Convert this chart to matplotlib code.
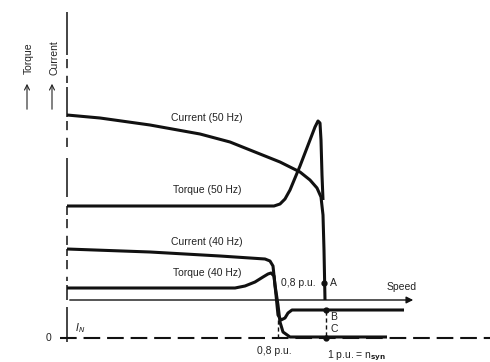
import matplotlib.pyplot as plt

# schematic diagram, coordinates (x = speed, y = value, picture units)
cur50_x = [67, 100, 150, 200, 230, 260, 280, 300, 310, 317, 321, 323, 324, 325]
cur50_y = [115, 118, 125, 134, 142, 154, 162, 172, 180, 188, 197, 215, 250, 300]
tq50_x = [67, 274, 280, 285, 290, 300, 310, 315, 318, 320, 321, 322, 323]
tq50_y = [206, 206, 204, 199, 190, 166, 140, 127, 121, 123, 140, 175, 200]
cur40_x = [67, 150, 220, 265, 270, 273, 275, 278, 280, 283, 290, 387]
cur40_y = [249, 252, 256, 259, 261, 266, 285, 305, 322, 332, 337, 337]
tq40_x = [67, 235, 245, 255, 263, 268, 271, 274, 276, 278, 281, 285, 288, 292, 300, 404]
tq40_y = [288, 288, 286, 282, 277, 274, 273, 276, 295, 315, 320, 318, 313, 310, 310, 310]

axis_x = 67
axis_solid = [(12, 55), (87, 117), (158, 197), (206, 215), (249, 256), (285, 300), (307, 342)]
axis_dash = [(55, 87), (117, 158), (215, 249), (256, 285)]
speed_y = 300
zero_y = 338

ink = '#111111'
fig = plt.figure(figsize=(4.9, 3.62), dpi=100)
ax = fig.add_axes([0, 0, 1, 1])
ax.set_xlim(0, 490)
ax.set_ylim(362, 0)
ax.axis('off')

for a, b in axis_solid:
    ax.plot([axis_x, axis_x], [a, b], color=ink, lw=1.1, solid_capstyle='butt')
for a, b in axis_dash:
    ax.plot([axis_x, axis_x], [a + 4, b - 4], color=ink, lw=1.1, ls=(0, (6, 5)))

# zero line and speed axis
ax.plot([60, 490], [zero_y, zero_y], color=ink, lw=1.5, ls=(0, (8, 3.3)))
ax.annotate('', xy=(416, speed_y), xytext=(axis_x, speed_y),
            arrowprops=dict(arrowstyle='-|>', color=ink, lw=1.0, mutation_scale=10))

for xs, ys in [(cur50_x, cur50_y), (tq50_x, tq50_y), (cur40_x, cur40_y), (tq40_x, tq40_y)]:
    ax.plot(xs, ys, color=ink, lw=2.2, solid_joinstyle='round', solid_capstyle='butt')

# markers
ax.plot([326, 326], [311, zero_y], color=ink, lw=1.0, ls=(0, (3, 2)))
ax.plot([278, 278], [320, zero_y], color=ink, lw=1.0, ls=(0, (3, 2)))
ax.plot([324, 326, 326], [283, 310, zero_y], 'o', color=ink, ms=3.5)

fs = 7.5
tc = '#222222'
kw = dict(fontsize=fs, color=tc, family='Liberation Sans')
ax.text(207, 118, 'Current (50 Hz)', ha='center', va='center', **kw)
ax.text(207, 190, 'Torque (50 Hz)', ha='center', va='center', **kw)
ax.text(207, 242, 'Current (40 Hz)', ha='center', va='center', **kw)
ax.text(207, 273, 'Torque (40 Hz)', ha='center', va='center', **kw)
ax.text(298, 283, '0,8 p.u.', ha='center', va='center', **kw)
ax.text(330, 283, 'A', ha='left', va='center', **kw)
ax.text(330, 317, 'B', ha='left', va='center', **kw)
ax.text(330, 329, 'C', ha='left', va='center', **kw)
ax.text(402, 287, 'Speed', ha='center', va='center', **kw)
ax.text(274, 351, '0,8 p.u.', ha='center', va='center', **kw)
ax.text(357, 356, r'1 p.u. = n$_{\mathbf{syn}}$', ha='center', va='center', **kw)
ax.text(48, 338, '0', ha='center', va='center', **kw)
ax.text(75, 328, r'$I_N$', ha='left', va='center', **kw)

for x, name in [(27, 'Torque'), (52, 'Current')]:
    ax.text(x + 2, 58, name, rotation=90, ha='center', va='center', **kw)
    ax.annotate('', xy=(x, 81), xytext=(x, 112),
                arrowprops=dict(arrowstyle='->', color=tc, lw=0.8, mutation_scale=9))

fig.savefig('out.png', dpi=100)
